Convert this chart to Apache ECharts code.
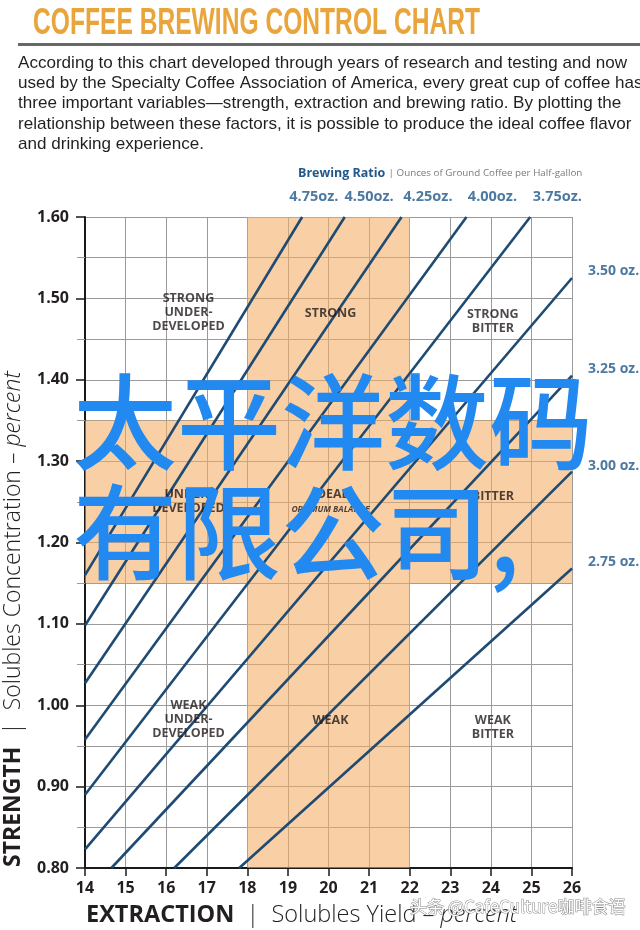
<!DOCTYPE html>
<html><head><meta charset="utf-8">
<script src="https://cdn.jsdelivr.net/npm/echarts@6/dist/echarts.min.js"></script>
<style>html,body{margin:0;padding:0;background:#fff}#c{width:640px;height:930px}</style>
</head><body><div id="c"></div>
<script>
// ---- data ----
const ratioNames = ['4.75', '4.50', '4.25', '4.00', '3.75', '3.50', '3.25', '3.00', '2.75'];
const lineStart = [[14, 1.16], [14, 1.098], [14, 1.027], [14, 0.958], [14, 0.89], [14, 0.823], [14.65, 0.80], [16.2, 0.80], [17.8, 0.80]];
const lineEnd = [[19.35, 1.60], [20.4, 1.60], [21.8, 1.60], [23.4, 1.60], [24.97, 1.60], [26, 1.525], [26, 1.405], [26, 1.287], [26, 1.168]];
const topLabelNames = ['4.75oz.', '4.50oz.', '4.25oz.', '4.00oz.', '3.75oz.'];
const topLabelX = [19.64, 21.0, 22.45, 24.04, 25.64];
const rightLabelNames = ['3.50 oz.', '3.25 oz.', '3.00 oz.', '2.75 oz.'];
const rightLabelY = [1.534, 1.413, 1.294, 1.176];
const zoneNames = ['STRONG\nUNDER-\nDEVELOPED', 'STRONG', 'STRONG\nBITTER',
                   'UNDER-\nDEVELOPED', 'IDEAL', 'BITTER',
                   'WEAK\nUNDER-\nDEVELOPED', 'WEAK', 'WEAK\nBITTER'];
const zoneX = [16.55, 20.05, 24.05, 16.55, 20.05, 24.05, 16.55, 20.05, 24.05];
const zoneY = [1.483, 1.481, 1.472, 1.25, 1.25, 1.256, 0.983, 0.981, 0.973];
const idealX = [18, 22];          // extraction band
const idealY = [1.15, 1.35];      // strength band
const xTicks = [14, 26, 1];
const yTicks = [0.8, 1.6, 0.1];
const titleText = 'COFFEE BREWING CONTROL CHART';
const paragraph = [
  'According to this chart developed through years of research and testing and now',
  'used by the Specialty Coffee Association of America, every great cup of coffee has',
  'three important variables\u2014strength, extraction and brewing ratio. By plotting the',
  'relationship between these factors, it is possible to produce the ideal coffee flavor',
  'and drinking experience.'
];

const chart = echarts.init(document.getElementById('c'), null, {renderer: 'canvas'});
const LINE = '#1f4b73';
const LBL = '#215889';
const ZONE = '#221a1a';
const orange = 'rgba(245,172,100,0.58)';

// text width helper for condensed title
const mctx = document.createElement('canvas').getContext('2d');
function textW(font, t) { mctx.font = font; return mctx.measureText(t).width; }
const titleFont = 'bold 36px "Liberation Sans", Arial, sans-serif';
const titleScale = 447 / textW(titleFont, titleText);
const paraFont = '17px "Liberation Sans", Arial, sans-serif';
const paraScale = 609 / textW(paraFont, paragraph[0]);

const series = [];
series.push({
  type: 'line', data: [], silent: true,
  markArea: {
    silent: true,
    itemStyle: {color: orange},
    data: [
      [{xAxis: idealX[0], yAxis: yTicks[0]}, {xAxis: idealX[1], yAxis: yTicks[1]}],
      [{xAxis: xTicks[0], yAxis: idealY[0]}, {xAxis: idealX[0], yAxis: idealY[1]}],
      [{xAxis: idealX[1], yAxis: idealY[0]}, {xAxis: xTicks[1], yAxis: idealY[1]}]
    ]
  }
});
ratioNames.forEach((n, i) => {
  series.push({
    type: 'line', name: n, data: [lineStart[i], lineEnd[i]], symbol: 'none', silent: true,
    lineStyle: {color: LINE, width: 2.6}, z: 3
  });
});
series.push({
  type: 'scatter', symbolSize: 0, clip: false, silent: true, z: 5,
  data: topLabelNames.map((n, i) => ({value: [topLabelX[i], yTicks[1]], name: n})),
  label: {show: true, position: 'top', distance: 13, formatter: p => p.name,
    color: LBL, fontFamily: 'Open Sans', fontWeight: 'bold', fontSize: 14.5}
});
series.push({
  type: 'scatter', symbolSize: 0, clip: false, silent: true, z: 5,
  data: rightLabelNames.map((n, i) => ({value: [xTicks[1], rightLabelY[i]], name: n})),
  label: {show: true, position: 'right', distance: 16, formatter: p => p.name,
    color: LBL, fontFamily: 'Open Sans', fontWeight: 'bold', fontSize: 14}
});
series.push({
  type: 'scatter', symbolSize: 0, clip: false, silent: true, z: 6,
  data: zoneNames.map((n, i) => ({value: [zoneX[i], zoneY[i]], name: n})),
  label: {show: true, position: 'inside', formatter: p => p.name === 'IDEAL' ? '{a|IDEAL}\n{b|OPTIMUM BALANCE}' : p.name,
    color: ZONE, fontFamily: 'Open Sans', fontWeight: 'bold', fontSize: 12.5, lineHeight: 14,
    rich: {a: {fontFamily: 'Open Sans', fontWeight: 'bold', fontSize: 12.5, color: ZONE, lineHeight: 16},
           b: {fontFamily: 'Open Sans', fontWeight: 'bold', fontStyle: 'italic', fontSize: 8.5, color: ZONE, lineHeight: 14}}}
});

const graphic = [
  {type: 'text', x: 33, y: 24, scaleX: titleScale, style: {text: titleText, fill: '#e9a53b', verticalAlign: 'middle',
    font: titleFont}},
  {type: 'rect', shape: {x: 18, y: 43, width: 622, height: 3}, style: {fill: '#676767'}},
  {type: 'text', left: 298, top: 167, style: {
    text: '{a|Brewing Ratio} {b|| Ounces of Ground Coffee per Half-gallon}',
    rich: {a: {font: 'bold 12.5px "Open Sans", sans-serif', fill: LBL},
           b: {font: '9.8px "Open Sans", sans-serif', fill: '#7a7a7a'}}}},
  {type: 'text', x: 13, y: 867, rotation: Math.PI / 2, style: {
    text: '{a|STRENGTH}{b|  |  Solubles Concentration \u2013 }{c|percent}', verticalAlign: 'middle', align: 'left',
    rich: {a: {font: 'bold 23px "Open Sans", sans-serif', fill: '#231f20'},
           b: {font: '300 23px "Open Sans", sans-serif', fill: '#231f20'},
           c: {font: 'italic 300 23px "Open Sans", sans-serif', fill: '#231f20'}}}},
  {type: 'text', x: 86, y: 915, style: {
    text: '{a|EXTRACTION}{b|  |  Solubles Yield \u2013 }{c|percent}', verticalAlign: 'middle', align: 'left',
    rich: {a: {font: 'bold 23.5px "Open Sans", sans-serif', fill: '#231f20'},
           b: {font: '300 23.5px "Open Sans", sans-serif', fill: '#231f20'},
           c: {font: 'italic 300 23.5px "Open Sans", sans-serif', fill: '#231f20'}}}},
  {type: 'text', x: 73, y: 422, z: 100, style: {text: '太平洋数码', verticalAlign: 'middle',
    font: '500 104px "Noto Sans CJK SC", sans-serif', fill: '#2189ef'}},
  {type: 'text', x: 73, y: 532, z: 100, style: {text: '有限公司,', verticalAlign: 'middle',
    font: '500 104px "Noto Sans CJK SC", sans-serif', fill: '#2189ef'}},
  {type: 'text', x: 410, y: 907, z: 100, style: {text: '头条 @CafeCulture咖啡食语', verticalAlign: 'middle',
    font: '17px "Noto Sans CJK SC", sans-serif', fill: '#ffffff', stroke: '#8a8a8a', lineWidth: 1}}
];
paragraph.forEach((t, i) => {
  graphic.push({type: 'text', x: 18, y: 63 + i * 20.3, scaleX: paraScale, style: {text: t, verticalAlign: 'middle',
    font: paraFont, fill: '#231f20'}});
});

chart.setOption({
  animation: false,
  backgroundColor: '#fff',
  grid: {left: 85, right: 68, top: 217, bottom: 62},
  xAxis: {
    type: 'value', min: xTicks[0], max: xTicks[1], interval: xTicks[2],
    axisLine: {show: true, onZero: false, lineStyle: {color: '#1a1a1a', width: 2}},
    axisTick: {show: true, length: 8, lineStyle: {color: '#1a1a1a', width: 1.5}},
    axisLabel: {margin: 12, color: '#231f20', fontFamily: 'Open Sans', fontWeight: 'bold', fontSize: 16},
    splitLine: {show: true, lineStyle: {color: '#9a9a9a', width: 1}}
  },
  yAxis: {
    type: 'value', min: yTicks[0], max: yTicks[1], interval: yTicks[2],
    axisLine: {show: true, onZero: false, lineStyle: {color: '#1a1a1a', width: 2}},
    axisTick: {show: true, length: 9, lineStyle: {color: '#1a1a1a', width: 1.5}},
    minorTick: {show: true, splitNumber: 2, length: 8, lineStyle: {color: '#9a9a9a', width: 1}},
    minorSplitLine: {show: true, lineStyle: {color: '#9a9a9a', width: 1}},
    axisLabel: {margin: 16, color: '#231f20', fontFamily: 'Open Sans', fontWeight: 'bold', fontSize: 16,
      formatter: v => v.toFixed(2)},
    splitLine: {show: true, lineStyle: {color: '#9a9a9a', width: 1}}
  },
  series: series,
  graphic: graphic
});
</script></body></html>
